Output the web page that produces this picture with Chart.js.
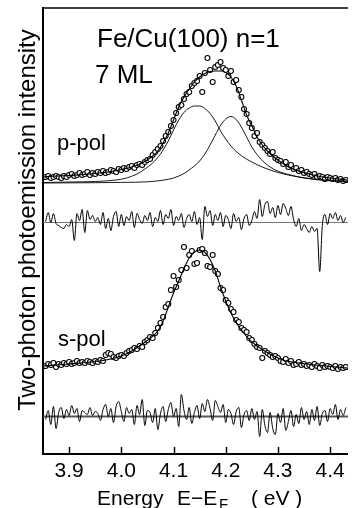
<!DOCTYPE html>
<html>
<head>
<meta charset="utf-8">
<script src="https://cdn.jsdelivr.net/npm/chart.js@4.4.1/dist/chart.umd.min.js"></script>
<style>
  html, body { margin: 0; padding: 0; background: #fff; }
  #wrap { width: 353px; height: 508px; position: relative; }
</style>
</head>
<body>
<div id="wrap"><canvas id="chart"></canvas></div>
<script>
// photon energy of the measured points (eV, E - E_F)
const energy = [
  3.855, 3.860, 3.865, 3.870, 3.875, 3.880, 3.885, 3.890, 3.895, 3.900,
  3.905, 3.910, 3.915, 3.920, 3.925, 3.930, 3.935, 3.940, 3.945, 3.950,
  3.955, 3.960, 3.965, 3.970, 3.975, 3.980, 3.985, 3.990, 3.995, 4.000,
  4.005, 4.010, 4.015, 4.020, 4.025, 4.030, 4.035, 4.040, 4.045, 4.050,
  4.055, 4.060, 4.065, 4.070, 4.075, 4.080, 4.085, 4.090, 4.095, 4.100,
  4.105, 4.110, 4.115, 4.120, 4.125, 4.130, 4.135, 4.140, 4.145, 4.150,
  4.155, 4.160, 4.165, 4.170, 4.175, 4.180, 4.185, 4.190, 4.195, 4.200,
  4.205, 4.210, 4.215, 4.220, 4.225, 4.230, 4.235, 4.240, 4.245, 4.250,
  4.255, 4.260, 4.265, 4.270, 4.275, 4.280, 4.285, 4.290, 4.295, 4.300,
  4.305, 4.310, 4.315, 4.320, 4.325, 4.330, 4.335, 4.340, 4.345, 4.350,
  4.355, 4.360, 4.365, 4.370, 4.375, 4.380, 4.385, 4.390, 4.395, 4.400,
  4.405, 4.410, 4.415, 4.420, 4.425, 4.430
];

// p-pol spectrum (arb. units)
const pPolCounts = [
  6, 7, 5, 6, 7, 6, 5, 7, 6, 8,
  9, 7, 8, 10, 8, 9, 11, 8, 10, 9,
  11, 10, 12, 10, 11, 13, 12, 11, 14, 13,
  15, 14, 16, 17, 15, 18, 19, 18, 21, 23,
  24, 28, 31, 34, 37, 42, 47, 51, 57, 63,
  70, 76, 78, 84, 89, 91, 97, 100, 102, 107,
  91, 110, 125, 113, 101, 116, 118, 121, 115, 113,
  107, 112, 101, 103, 93, 86, 74, 69, 60, 55,
  47, 50, 41, 38, 35, 32, 29, 31, 25, 23,
  22, 19, 21, 16, 18, 14, 15, 12, 13, 10,
  11, 9, 8, 9, 6, 7, 6, 4, 6, 5,
  4, 5, 3, 4, 2, 3
];
const pPolResidual = [
  1, 10, 0, 9, -1, -3, -5, -6, -2, -4,
  3, -18, 9, 2, 13, -10, 12, 3, 7, 1,
  5, -2, 10, -6, 4, -8, 6, 11, -4, 8,
  -3, 6, 2, 11, -5, 9, 3, -1, 7, 2,
  10, -4, 5, 1, 12, -2, 8, 4, 13, -3,
  6, 2, 9, -5, 4, 8, 1, 11, -2, 5,
  -17, 16, 6, 12, -3, 8, 2, 10, -4, 7,
  3, -6, 9, 1, 5, -7, 4, 8, -3, 2,
  11, 4, 23, 6, 18, 21, 9, 15, 5, 17,
  8, 19, 14, 7, 16, 3, -4, 4, -8, -2,
  -6, -10, -4, -9, -6, -49, -3, 8, -2, 9,
  4, 10, 2, 7, 0, 5
];

// p-pol fit: total and the two peaks
const pPolFitE = [3.850, 3.875, 3.900, 3.925, 3.950, 3.975, 4.000, 4.020, 4.040, 4.060,
  4.070, 4.080, 4.090, 4.100, 4.110, 4.120, 4.130, 4.140, 4.150, 4.160, 4.170, 4.180,
  4.190, 4.200, 4.210, 4.220, 4.230, 4.240, 4.250, 4.260, 4.270, 4.280, 4.290, 4.300,
  4.320, 4.340, 4.360, 4.380, 4.400, 4.434];
const pPolFit = [6, 7, 7.5, 8.5, 9.5, 11, 13.5, 16, 20, 27,
  32, 40, 50, 63, 76, 86, 94, 101, 106, 109.5, 111.5, 112,
  112, 110.5, 106, 97, 83, 68, 57, 46, 38, 32, 27, 23,
  16, 12, 9, 6.5, 5, 3];
const peak1E = [3.850, 3.900, 3.950, 3.990, 4.010, 4.030, 4.045, 4.060, 4.075, 4.090,
  4.100, 4.110, 4.120, 4.130, 4.140, 4.150, 4.160, 4.170, 4.180, 4.190, 4.200, 4.210,
  4.220, 4.235, 4.250, 4.270, 4.300, 4.340, 4.390, 4.434];
const peak1 = [0.5, 1, 1.5, 3, 5, 9, 14, 20, 29, 42,
  53, 63, 70.5, 75, 77, 77, 74.5, 69.5, 62, 52, 44, 37,
  31.5, 25.5, 21, 16, 10.5, 6, 3, 2];
const peak2E = [3.850, 3.950, 4.000, 4.050, 4.080, 4.100, 4.120, 4.135, 4.150, 4.160,
  4.170, 4.180, 4.190, 4.200, 4.210, 4.220, 4.230, 4.240, 4.250, 4.260, 4.275, 4.295,
  4.320, 4.350, 4.390, 4.434];
const peak2 = [0, 0.3, 0.6, 1.2, 2.8, 5, 9.5, 15, 22, 29,
  38, 48, 57.5, 64, 66.5, 63.5, 56, 46, 36, 28.5, 20, 13,
  8.5, 5, 2.5, 1.2];

// s-pol spectrum (arb. units)
const sPolCounts = [
  2, 4, 3, 5, 1, 4, 3, 5, 4, 6,
  4, 5, 7, 5, 6, 5, 7, 6, 5, 7,
  6, 8, 7, 13, 15, 14, 11, 10, 12, 13,
  12, 15, 17, 18, 20, 19, 22, 21, 26, 28,
  31, 30, 35, 40, 45, 51, 61, 64, 78, 92,
  81, 88, 98, 121, 100, 113, 117, 104, 105, 118,
  119, 115, 102, 101, 113, 97, 94, 80, 78, 68,
  65, 59, 56, 48, 46, 40, 38, 36, 30, 28,
  24, 21, 20, 10, 17, 15, 13, 11, 12, 10,
  7, 6, 9, 5, 7, 3, 4, 6, 3, 4,
  2, 3, 1, 4, 2, 0, 3, 1, 2, 1,
  0, 2, -1, 1, 0, 1
];
const sPolResidual = [
  -3, 6, -8, 10, -12, 4, 9, -2, 7, 1,
  11, 3, 8, -5, 6, 4, 2, 9, 1, 5,
  3, -4, 7, 12, 0, 8, -6, 10, 15, 5,
  -5, 9, 3, 7, -8, 11, 2, 17, -9, 6,
  4, -6, 8, -13, 3, 10, -5, 7, 14, 0,
  8, -10, 22, 6, -3, 9, -7, 4, 11, -2,
  13, 5, 17, 8, -4, 16, 10, 4, 12, -6,
  7, 3, -8, 5, 9, -11, 2, 6, -4, 8,
  -3, 5, -20, 7, -9, -16, 4, -12, -18, 3,
  -6, 8, -14, -5, 6, -10, 2, -7, 9, -3,
  5, -8, 7, -4, 10, -9, 3, 6, -5, 8,
  2, 12, -3, 7, 1, 9
];
const sPolFitE = [3.850, 3.900, 3.950, 3.975, 4.000, 4.020, 4.040, 4.055, 4.070, 4.080,
  4.090, 4.100, 4.110, 4.120, 4.130, 4.140, 4.150, 4.160, 4.170, 4.180, 4.190, 4.200,
  4.210, 4.220, 4.230, 4.240, 4.255, 4.270, 4.290, 4.310, 4.340, 4.380, 4.434];
const sPolFit = [2, 4, 6.5, 8.5, 12, 17, 24, 29.5, 37, 47,
  61, 75, 87, 99.5, 110, 116, 118, 115.5, 108.5, 97, 81, 67,
  55, 45.5, 38, 31.5, 24, 18.5, 12.5, 8, 5, 2.5, 0];

const energyRange = [3.85, 4.434];
const zeroLine = [0, 0];
const energyTicks = [3.9, 4.0, 4.1, 4.2, 4.3, 4.4];

// layout (canvas px)
const AREA = { left: 43, top: 8, bottom: 454 };
const ZERO = { p: 183, pRes: 222.5, s: 368, sRes: 416.5 };
const FONT = '"Liberation Sans", Arial, Helvetica, sans-serif';

const pts = (xs, ys) => xs.map((x, i) => ({ x: x, y: ys[i] }));

// one hidden axis per panel, 1 unit = 1 px, zero placed at the panel baseline
function panelAxis(zeroPx) {
  return {
    type: 'linear',
    display: false,
    min: -(AREA.bottom - zeroPx),
    max: zeroPx - AREA.top,
  };
}

const circles = (data, axis) => ({
  type: 'line', data: data, yAxisID: axis, showLine: false, order: 3,
  pointRadius: 2.5, pointBorderWidth: 1.1,
  pointBackgroundColor: '#fff', pointBorderColor: '#000',
});
const curve = (data, axis, width) => ({
  type: 'line', data: data, yAxisID: axis, order: 1,
  borderColor: '#000', borderWidth: width, pointRadius: 0,
  cubicInterpolationMode: 'monotone',
});
const baseline = (axis, color, width) => ({
  type: 'line', data: pts(energyRange, zeroLine), yAxisID: axis, order: 2,
  borderColor: color, borderWidth: width, pointRadius: 0,
});

const decorations = {
  id: 'decorations',
  afterDraw(chart) {
    const { ctx, chartArea } = chart;
    const x = chart.scales.x;
    ctx.save();
    // top frame line
    ctx.strokeStyle = '#000';
    ctx.lineWidth = 1.5;
    ctx.beginPath();
    ctx.moveTo(chartArea.left, chartArea.top);
    ctx.lineTo(chartArea.right, chartArea.top);
    ctx.stroke();
    // inward tick marks on the energy axis
    ctx.lineWidth = 1.5;
    x.ticks.forEach((t) => {
      const px = Math.round(x.getPixelForValue(t.value)) + 0.5;
      ctx.beginPath();
      ctx.moveTo(px, chartArea.bottom);
      ctx.lineTo(px, chartArea.bottom - 7);
      ctx.stroke();
    });

    ctx.fillStyle = '#000';
    ctx.textBaseline = 'alphabetic';
    ctx.textAlign = 'left';
    ctx.font = '26px ' + FONT;
    ctx.fillText('Fe/Cu(100) n=1', 97, 47);
    ctx.fillText('7 ML', 95, 83);
    ctx.font = '22px ' + FONT;
    ctx.fillText('p-pol', 57, 150);
    ctx.fillText('s-pol', 58, 346);

    // x title with subscript F
    ctx.font = '21px ' + FONT;
    ctx.fillText('Energy', 97, 505);
    ctx.fillText('E\u2212E', 177, 505);
    ctx.font = '15px ' + FONT;
    ctx.fillText('F', 219, 509);
    ctx.font = '21px ' + FONT;
    ctx.fillText('( eV )', 251, 505);

    // y title
    ctx.translate(28, 220);
    ctx.rotate(-Math.PI / 2);
    ctx.textAlign = 'center';
    ctx.textBaseline = 'middle';
    ctx.font = '24px ' + FONT;
    ctx.fillText('Two-photon photoemission intensity', 0, 0);
    ctx.restore();
  },
};

new Chart(document.getElementById('chart'), {
  data: {
    datasets: [
      circles(pts(energy, pPolCounts), 'yP'),
      curve(pts(pPolFitE, pPolFit), 'yP', 1.1),
      curve(pts(peak1E, peak1), 'yP', 0.9),
      curve(pts(peak2E, peak2), 'yP', 0.9),
      baseline('yPr', '#777', 1.2),
      curve(pts(energy, pPolResidual), 'yPr', 1),
      circles(pts(energy, sPolCounts), 'yS'),
      curve(pts(sPolFitE, sPolFit), 'yS', 1.1),
      baseline('ySr', '#555', 2),
      curve(pts(energy, sPolResidual), 'ySr', 1),
    ],
  },
  options: {
    responsive: true,
    maintainAspectRatio: false,
    animation: false,
    events: [],
    layout: { padding: { top: AREA.top, left: 0, right: 0, bottom: 0 } },
    plugins: { legend: { display: false }, tooltip: { enabled: false } },
    scales: {
      x: {
        type: 'linear',
        position: 'bottom',
        min: energyRange[0],
        max: energyRange[1],
        afterBuildTicks: (scale) => {
          scale.ticks = energyTicks.map((v) => ({ value: v }));
        },
        afterFit: (scale) => { scale.height = 508 - AREA.bottom; },
        grid: { display: false, drawTicks: false },
        border: { display: true, color: '#000', width: 2 },
        ticks: {
          color: '#000',
          font: { family: FONT, size: 21 },
          padding: 5,
          maxRotation: 0,
          autoSkip: false,
          callback: (v) => v.toFixed(1),
        },
      },
      frame: {
        type: 'linear',
        position: 'left',
        min: 0,
        max: 1,
        afterFit: (scale) => { scale.width = AREA.left; },
        grid: { display: false, drawTicks: false },
        border: { display: true, color: '#000', width: 2 },
        ticks: { display: false },
      },
      yP: panelAxis(ZERO.p),
      yPr: panelAxis(ZERO.pRes),
      yS: panelAxis(ZERO.s),
      ySr: panelAxis(ZERO.sRes),
    },
  },
  plugins: [decorations],
});
</script>
</body>
</html>
